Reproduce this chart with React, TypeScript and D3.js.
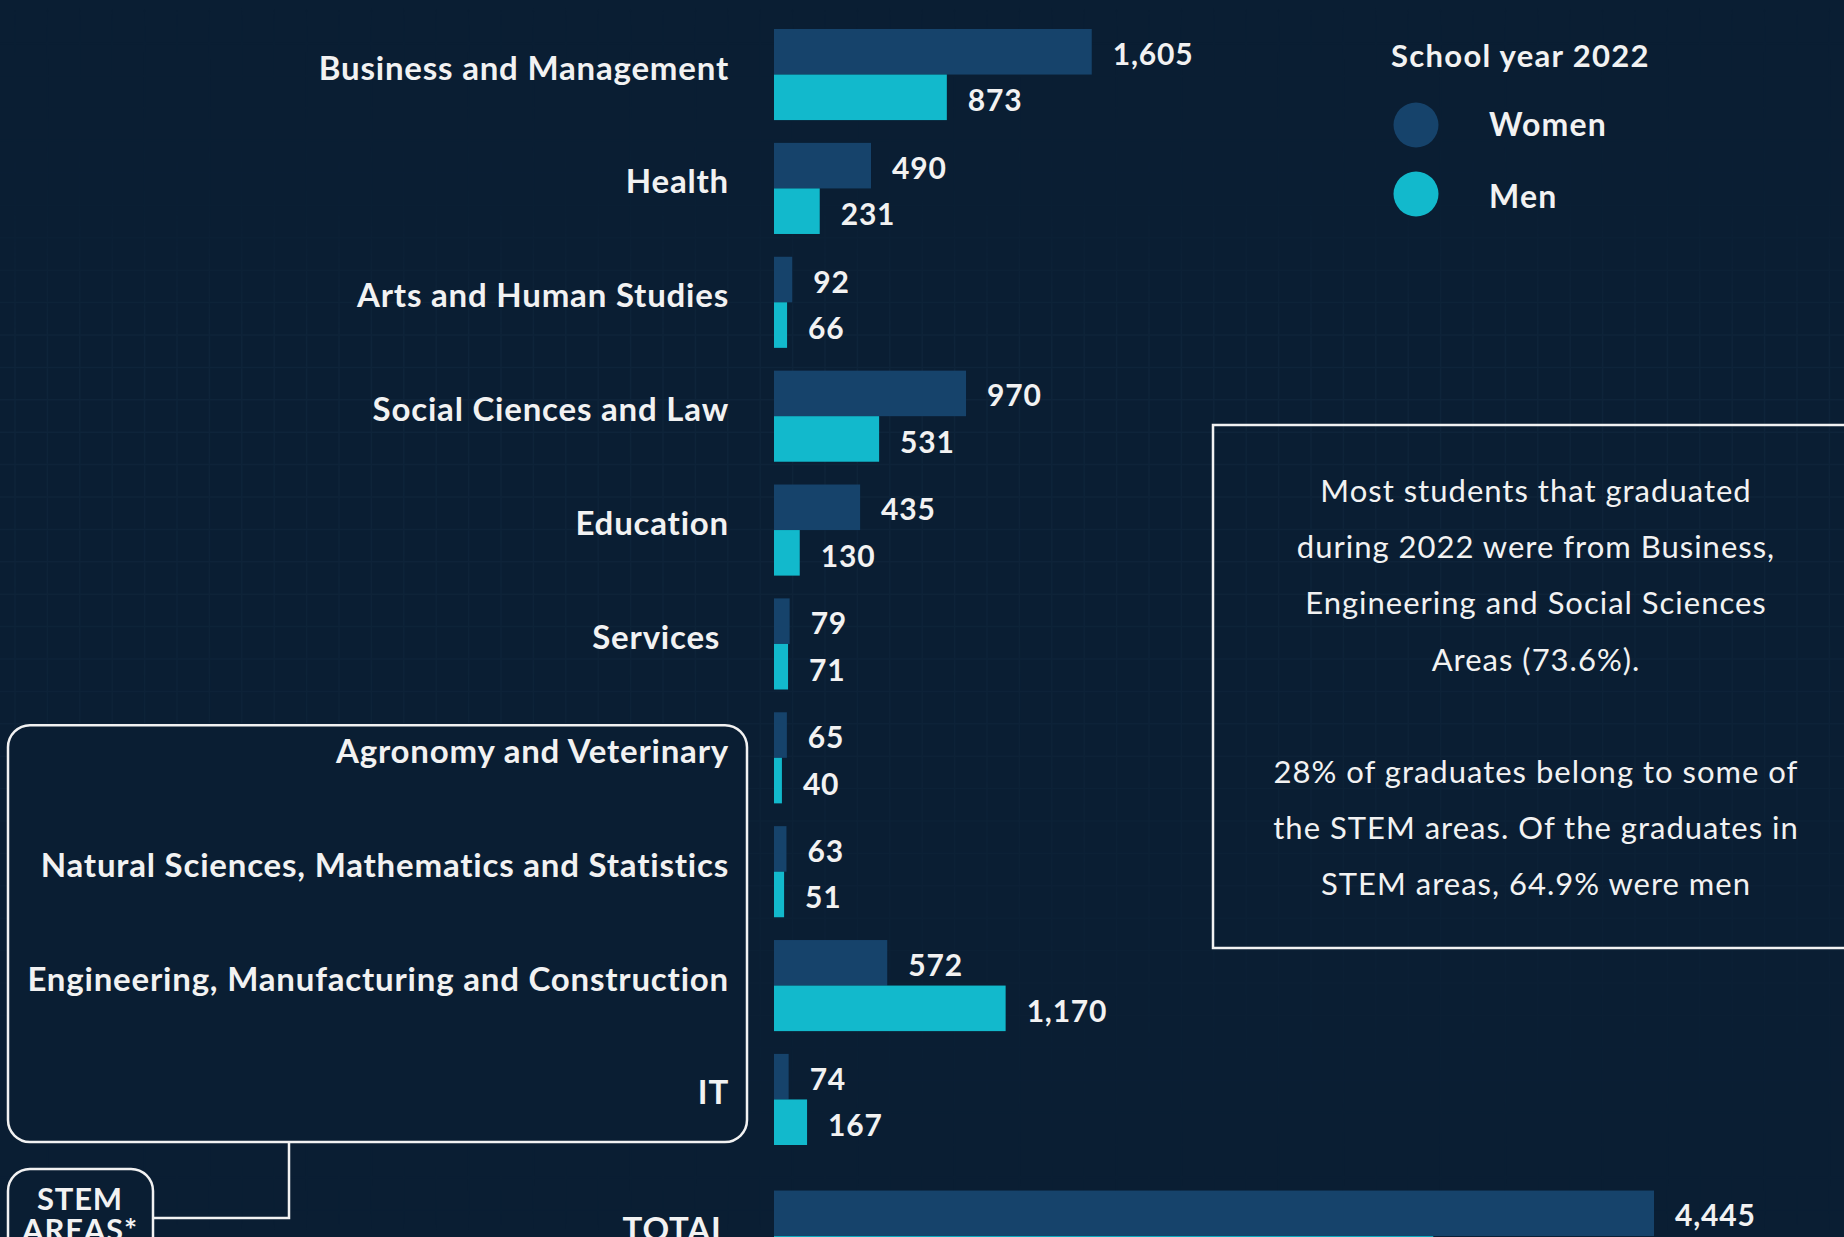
import React from "react";
import * as d3 from "d3";

const categories = [
  "Business and Management",
  "Health",
  "Arts and Human Studies",
  "Social Ciences and Law",
  "Education",
  "Services\u00a0",
  "Agronomy and Veterinary",
  "Natural Sciences, Mathematics and Statistics",
  "Engineering, Manufacturing and Construction",
  "IT",
];
const women = [1605, 490, 92, 970, 435, 79, 65, 63, 572, 74];
const men = [873, 231, 66, 531, 130, 71, 40, 51, 1170, 167];
const seriesNames = ["Women", "Men"];
const legendTitle = "School year 2022";
const totalLabel = "TOTAL";
const stemLabel = ["STEM", "AREAS*"];
const stemCategories = categories.slice(6);
const infoLines = [
  "Most students that graduated",
  "during 2022 were from Business,",
  "Engineering and Social Sciences",
  "Areas (73.6%).",
  "",
  "28% of graduates belong to some of",
  "the STEM areas. Of the graduates in",
  "STEM areas, 64.9% were men",
];

const W = 1844;
const H = 1237;
const BG = "#0a1e33";
const WOMEN_C = "#16436b";
const MEN_C = "#12b9cc";
const TXT = "#f2f2f2";
const FONT = "Lato, 'Open Sans', sans-serif";

export default function App() {
  const totalWomen = d3.sum(women);
  const totalMen = d3.sum(men);
  const x = d3.scaleLinear().domain([0, totalWomen]).range([774, 1654]);
  const y = d3
    .scaleBand<string>()
    .domain(categories)
    .range([29, 1145])
    .paddingInner(0.2)
    .paddingOuter(0);
  const bw = y.bandwidth();
  const half = bw / 2;
  const totalY = (y(categories[categories.length - 1]) as number) + y.step() * 1.2;
  const labelX = 729;
  const fmt = d3.format(",");
  const color = d3.scaleOrdinal<string, string>().domain(seriesNames).range([WOMEN_C, MEN_C]);

  const rows = categories.map((c, i) => ({ c, y0: y(c) as number, w: women[i], m: men[i] }));
  rows.push({ c: totalLabel, y0: totalY, w: totalWomen, m: totalMen });

  // grid
  const gx = d3.range(15, W, 32.4);
  const gy = d3.range(11, H, 32.4);

  const stemTop = (y(stemCategories[0]) as number) + 13;
  const stemBottom = (y(stemCategories[stemCategories.length - 1]) as number) + bw - 3;

  return (
    <div>
      <style>{`body{margin:0;background:${BG};}`}</style>
      <svg width={W} height={H} style={{ display: "block", background: BG }}>
        <defs>
          <linearGradient id="gridFade" x1="0" y1="0" x2="0" y2="1">
            <stop offset="0" stopColor="#fff" stopOpacity="0" />
            <stop offset="0.17" stopColor="#fff" stopOpacity="0.15" />
            <stop offset="0.28" stopColor="#fff" stopOpacity="1" />
            <stop offset="0.6" stopColor="#fff" stopOpacity="0.7" />
            <stop offset="0.85" stopColor="#fff" stopOpacity="0.15" />
            <stop offset="1" stopColor="#fff" stopOpacity="0" />
          </linearGradient>
          <mask id="gridMask">
            <rect x={0} y={0} width={W} height={H} fill="url(#gridFade)" />
          </mask>
        </defs>
        <rect x={0} y={0} width={W} height={H} fill={BG} />
        <g mask="url(#gridMask)" stroke="#12293f" strokeWidth={1.5} opacity={0.6}>
          {gx.map((v) => (
            <line key={"gx" + v} x1={v} x2={v} y1={0} y2={H} />
          ))}
          {gy.map((v) => (
            <line key={"gy" + v} x1={0} x2={W} y1={v} y2={v} />
          ))}
        </g>

        {/* STEM bracket */}
        <rect
          x={8}
          y={stemTop}
          width={739}
          height={stemBottom - stemTop}
          rx={22}
          ry={22}
          fill={BG}
          stroke={TXT}
          strokeWidth={2.5}
        />
        <polyline
          points={`289,${stemBottom} 289,1218 153,1218`}
          fill="none"
          stroke={TXT}
          strokeWidth={2.5}
        />
        <rect x={8} y={1169} width={145} height={120} rx={22} ry={22} fill={BG} stroke={TXT} strokeWidth={2.5} />
        {stemLabel.map((t, i) => (
          <text
            key={t}
            x={80}
            y={1198 + i * 31}
            textAnchor="middle"
            dominantBaseline="central"
            fill={TXT}
            fontFamily={FONT}
            fontWeight={700}
            fontSize={31}
            letterSpacing={0.8}
          >
            {t}
          </text>
        ))}

        {/* bars */}
        {rows.map((r) => (
          <g key={r.c}>
            <rect x={x(0)} y={r.y0} width={x(r.w) - x(0)} height={half} fill={color("Women")} />
            <rect x={x(0)} y={r.y0 + half} width={x(r.m) - x(0)} height={half} fill={color("Men")} />
            <text
              x={labelX}
              y={r.y0 + half - 8}
              textAnchor="end"
              dominantBaseline="central"
              fill={TXT}
              fontFamily={FONT}
              fontWeight={700}
              fontSize={33}
              letterSpacing={0.8}
            >
              {r.c}
            </text>
            <text
              x={x(r.w) + 21}
              y={r.y0 + half / 2 + 1}
              dominantBaseline="central"
              fill={TXT}
              fontFamily={FONT}
              fontWeight={700}
              fontSize={30}
              letterSpacing={0.8}
            >
              {fmt(r.w)}
            </text>
            <text
              x={x(r.m) + 21}
              y={r.y0 + half * 1.5 + 2}
              dominantBaseline="central"
              fill={TXT}
              fontFamily={FONT}
              fontWeight={700}
              fontSize={30}
              letterSpacing={0.8}
            >
              {fmt(r.m)}
            </text>
          </g>
        ))}

        {/* legend */}
        <text
          x={1391}
          y={55}
          dominantBaseline="central"
          fill={TXT}
          fontFamily={FONT}
          fontWeight={700}
          fontSize={31}
          letterSpacing={1.3}
        >
          {legendTitle}
        </text>
        {seriesNames.map((s, i) => (
          <g key={s}>
            <circle cx={1416} cy={125 + i * 69} r={22.5} fill={color(s)} />
            <text
              x={1489}
              y={123 + i * 72}
              dominantBaseline="central"
              fill={TXT}
              fontFamily={FONT}
              fontWeight={700}
              fontSize={32}
              letterSpacing={1.2}
            >
              {s}
            </text>
          </g>
        ))}

        {/* info box */}
        <rect x={1213} y={425} width={W} height={523} fill="none" stroke={TXT} strokeWidth={2.5} />
        {infoLines.map((t, i) => (
          <text
            key={"l" + i}
            x={1536}
            y={490 + i * 56.2}
            textAnchor="middle"
            dominantBaseline="central"
            fill={TXT}
            fontFamily={FONT}
            fontWeight={400}
            fontSize={31}
            letterSpacing={1}
          >
            {t}
          </text>
        ))}
      </svg>
    </div>
  );
}
